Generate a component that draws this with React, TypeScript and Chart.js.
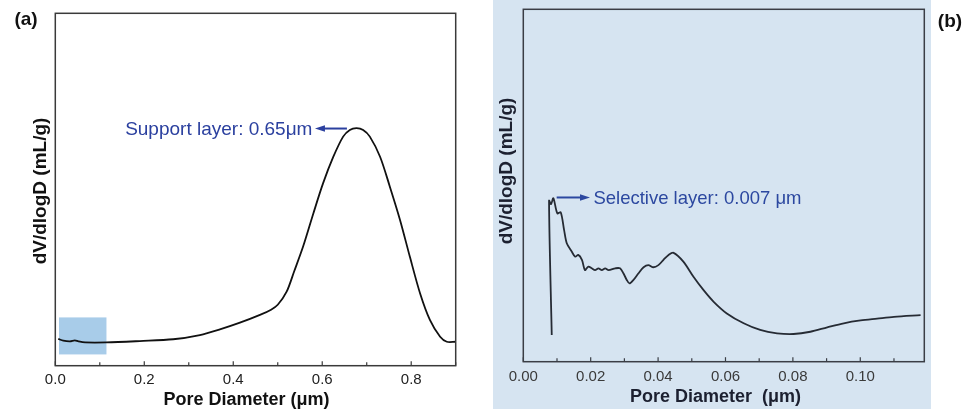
import React, { useEffect, useRef } from 'react';
import { Chart, registerables } from 'chart.js';

Chart.register(...registerables);

// (a) Pore size distribution of the whole membrane (support layer peak)
const supportDiameter = [
  0.0067, 0.018, 0.033, 0.044, 0.052, 0.067, 0.115, 0.19, 0.265, 0.325, 0.37, 0.415,
  0.46, 0.485, 0.5, 0.52, 0.537, 0.557, 0.58, 0.602, 0.625, 0.647, 0.662, 0.677, 0.692,
  0.707, 0.73, 0.752, 0.775, 0.797, 0.82, 0.842, 0.865, 0.88, 0.9,
];
const supportDV = [
  7.6, 7.1, 6.9, 7.2, 6.9, 6.6, 6.6, 7.0, 7.5, 8.7, 10.3, 12.2,
  14.4, 15.9, 17.3, 21.0, 26.8, 33.8, 43.2, 51.8, 59.3, 65.0, 66.9, 67.4, 66.9,
  65.0, 59.3, 50.8, 41.3, 30.9, 20.5, 13.0, 8.2, 6.8, 6.8,
];

// (b) Enlarged fine-pore region (selective layer)
const selectiveDiameter = [
  0.00844, 0.00764, 0.00823, 0.00892, 0.0101, 0.0111, 0.0121, 0.0129, 0.0144, 0.0154,
  0.0163, 0.0174, 0.0183, 0.0193, 0.0203, 0.0213, 0.0223, 0.0233, 0.0243, 0.0253,
  0.0273, 0.0287, 0.0297, 0.0307, 0.0315, 0.0327, 0.0342, 0.0357, 0.0371, 0.0386,
  0.0401, 0.0416, 0.0431, 0.0446, 0.0475, 0.0505, 0.0535, 0.0565, 0.0604, 0.0654,
  0.0703, 0.0753, 0.0802, 0.0852, 0.0902, 0.0951, 0.1001, 0.105, 0.110, 0.1179,
];
const selectiveDV = [
  7.6, 45.7, 44.7, 46.4, 42.1, 42.4, 37.4, 33.6, 31.2, 29.8,
  30.3, 28.9, 26.0, 27.0, 26.5, 26.0, 26.5, 26.0, 26.5, 26.0,
  26.5, 26.5, 25.1, 23.2, 22.2, 23.2, 25.1, 26.8, 27.4, 26.8,
  27.4, 28.9, 30.3, 30.9, 28.4, 24.1, 20.3, 17.0, 13.7, 10.9,
  9.0, 8.06, 7.86, 8.5, 9.75, 10.9, 11.7, 12.2, 12.7, 13.2,
];

// Axis ranges and labels
const supportRange = [0, 0.9];
const selectiveRange = [0, 0.119];
const yRange = [0, 100];
const xTitleA = 'Pore Diameter (\u03bcm)';
const xTitleB = 'Pore Diameter  (\u03bcm)';
const yTitle = 'dV/dlogD (mL/g)';

// Peak call-outs (anchored in data units)
const supportNote = { text: 'Support layer: 0.65\u03bcm', tailX: 0.6555, headX: 0.5836, y: 67.3, textX: 0.578 };
const selectiveNote = { text: 'Selective layer: 0.007 \u03bcm', tailX: 0.0099, headX: 0.0198, y: 46.6, textX: 0.0208 };
// Highlighted fine-pore window in (a)
const zoomWindow = { x0: 0.0083, x1: 0.115, y0: 3.2, y1: 13.7 };

const FONT = "'Liberation Sans', Arial, Helvetica, sans-serif";

type Decor = {
  panel: string;
  panelPos: [number, number];
  axisColor: string;
  titleColor: string;
  xTitle: string;
  xTitlePos: [number, number];
  yTitlePos: [number, number];
  majorEvery: number;
  step: number;
  note: { text: string; tailX: number; headX: number; y: number; textX: number };
  noteColor: string;
  noteFont: number;
  textSide: 'left' | 'right';
  shade?: { x0: number; x1: number; y0: number; y1: number };
};

function makeDecor(cfg: Decor) {
  return {
    id: 'decor' + cfg.panel,
    beforeDatasetsDraw(chart: any) {
      if (!cfg.shade) return;
      const { ctx, scales } = chart;
      const { x, y } = scales;
      const s = cfg.shade;
      const l = x.getPixelForValue(s.x0);
      const r = x.getPixelForValue(s.x1);
      const t = y.getPixelForValue(s.y1);
      const b = y.getPixelForValue(s.y0);
      ctx.save();
      ctx.fillStyle = '#a8cce9';
      ctx.fillRect(l, t, r - l, b - t);
      ctx.restore();
    },
    afterDraw(chart: any) {
      const { ctx, chartArea: ca, scales } = chart;
      const { x, y } = scales;
      ctx.save();
      // plot frame
      ctx.strokeStyle = cfg.axisColor;
      ctx.lineWidth = 1.5;
      ctx.strokeRect(ca.left, ca.top, ca.right - ca.left, ca.bottom - ca.top);
      // inward ticks on the bottom axis
      ctx.lineWidth = 1.2;
      x.ticks.forEach((t: any) => {
        const k = Math.round(t.value / cfg.step);
        const major = k % cfg.majorEvery === 0;
        const px = x.getPixelForValue(t.value);
        ctx.beginPath();
        ctx.moveTo(px, ca.bottom);
        ctx.lineTo(px, ca.bottom - (major ? 4.5 : 3.5));
        ctx.stroke();
      });
      // axis titles
      ctx.fillStyle = cfg.titleColor;
      ctx.textAlign = 'center';
      ctx.textBaseline = 'middle';
      ctx.font = `bold 18px ${FONT}`;
      ctx.fillText(cfg.xTitle, cfg.xTitlePos[0], cfg.xTitlePos[1]);
      ctx.save();
      ctx.translate(cfg.yTitlePos[0], cfg.yTitlePos[1]);
      ctx.rotate(-Math.PI / 2);
      ctx.font = `bold 19px ${FONT}`;
      ctx.fillText(yTitle, 0, 0);
      ctx.restore();
      // panel letter
      ctx.fillStyle = '#111';
      ctx.font = `bold 19px ${FONT}`;
      ctx.fillText(cfg.panel, cfg.panelPos[0], cfg.panelPos[1]);
      // peak call-out
      const n = cfg.note;
      const ty = y.getPixelForValue(n.y);
      const tail = x.getPixelForValue(n.tailX);
      const head = x.getPixelForValue(n.headX);
      const dir = Math.sign(head - tail);
      ctx.strokeStyle = cfg.noteColor;
      ctx.fillStyle = cfg.noteColor;
      ctx.lineWidth = 2;
      ctx.beginPath();
      ctx.moveTo(tail, ty);
      ctx.lineTo(head - dir * 8, ty);
      ctx.stroke();
      ctx.beginPath();
      ctx.moveTo(head, ty);
      ctx.lineTo(head - dir * 10, ty - 3.2);
      ctx.lineTo(head - dir * 10, ty + 3.2);
      ctx.closePath();
      ctx.fill();
      ctx.font = `${cfg.noteFont}px ${FONT}`;
      ctx.textAlign = cfg.textSide;
      ctx.fillText(n.text, x.getPixelForValue(n.textX), ty + 1);
      ctx.restore();
    },
  };
}

function buildChart(
  canvas: HTMLCanvasElement,
  xs: number[],
  ys: number[],
  range: number[],
  step: number,
  digits: number,
  lineColor: string,
  tickColor: string,
  padding: { left: number; right: number; top: number; bottom: number },
  axisHeight: number,
  labelPad: number,
  decor: Decor
) {
  const points = xs.map((v, i) => ({ x: v, y: ys[i] }));
  return new Chart(canvas, {
    type: 'line',
    data: {
      datasets: [
        {
          data: points,
          borderColor: lineColor,
          borderWidth: 1.8,
          pointRadius: 0,
          tension: 0.3,
          fill: false,
        },
      ],
    },
    options: {
      animation: false,
      responsive: false,
      events: [],
      layout: { padding },
      plugins: { legend: { display: false }, tooltip: { enabled: false } },
      scales: {
        x: {
          type: 'linear',
          min: range[0],
          max: range[1],
          grid: { display: false },
          border: { display: false },
          afterFit: (s: any) => {
            s.height = axisHeight;
          },
          ticks: {
            stepSize: step,
            includeBounds: false,
            autoSkip: false,
            maxRotation: 0,
            padding: labelPad,
            color: tickColor,
            font: { family: FONT, size: 15 },
            callback: (v: any) => {
              const k = Math.round(Number(v) / step);
              return k % decor.majorEvery === 0 ? (k * step).toFixed(digits) : '';
            },
          },
        },
        y: { display: false, min: yRange[0], max: yRange[1] },
      },
    },
    plugins: [makeDecor(decor)],
  } as any);
}

export default function App() {
  const refA = useRef<HTMLCanvasElement>(null);
  const refB = useRef<HTMLCanvasElement>(null);

  useEffect(() => {
    const a = buildChart(
      refA.current!,
      supportDiameter,
      supportDV,
      supportRange,
      0.1,
      1,
      '#111111',
      '#222222',
      { left: 55.3, right: 29.3, top: 13.3, bottom: 0 },
      47.3,
      -3,
      {
        panel: '(a)',
        panelPos: [26, 20],
        axisColor: '#3a3a3a',
        titleColor: '#111111',
        xTitle: xTitleA,
        xTitlePos: [246.5, 400],
        yTitlePos: [40.5, 191],
        majorEvery: 2,
        step: 0.1,
        note: supportNote,
        noteColor: '#2b409f',
        noteFont: 19,
        textSide: 'right',
        shade: zoomWindow,
      }
    );
    const b = buildChart(
      refB.current!,
      selectiveDiameter,
      selectiveDV,
      selectiveRange,
      0.01,
      2,
      '#262b34',
      '#3a3a3a',
      { left: 38.3, right: 45.7, top: 9.3, bottom: 0 },
      51.3,
      -2,
      {
        panel: '(b)',
        panelPos: [465, 22],
        axisColor: '#3a3d45',
        titleColor: '#1c2030',
        xTitle: xTitleB,
        xTitlePos: [230.5, 397],
        yTitlePos: [21.7, 171],
        majorEvery: 2,
        step: 0.01,
        note: selectiveNote,
        noteColor: '#2c48a0',
        noteFont: 18.5,
        textSide: 'left',
      }
    );
    return () => {
      a.destroy();
      b.destroy();
    };
  }, []);

  return (
    <div
      style={{
        position: 'absolute',
        left: 0,
        top: 0,
        width: 970,
        height: 413,
        background: '#ffffff',
        overflow: 'hidden',
      }}
    >
      <div
        style={{ position: 'absolute', left: 493, top: 0, width: 438, height: 409, background: '#d6e4f1' }}
      />
      <canvas ref={refA} width={485} height={413} style={{ position: 'absolute', left: 0, top: 0 }} />
      <canvas ref={refB} width={485} height={413} style={{ position: 'absolute', left: 485, top: 0 }} />
    </div>
  );
}
